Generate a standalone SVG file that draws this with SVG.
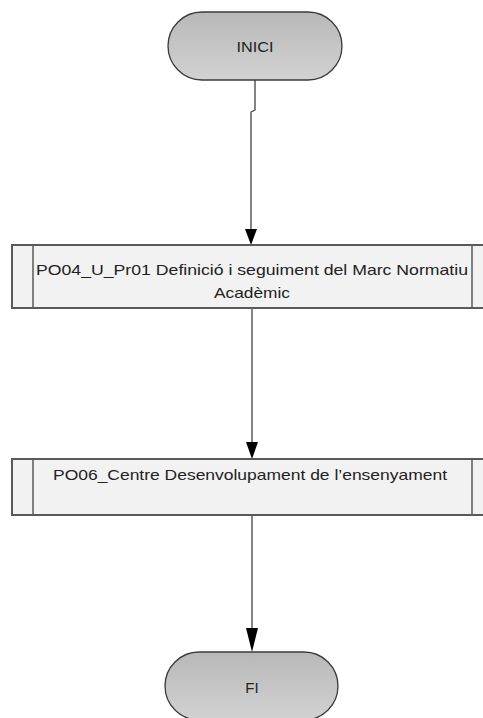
<svg xmlns="http://www.w3.org/2000/svg" width="483" height="718" viewBox="0 0 483 718">
<defs>
<linearGradient id="tg" x1="0" y1="0" x2="0" y2="1">
<stop offset="0" stop-color="#b8b8b8"/>
<stop offset="1" stop-color="#d2d2d2"/>
</linearGradient>
</defs>
<style>
.term{fill:url(#tg);stroke:#3a3a3a;stroke-width:1.3}
.proc{fill:#f2f2f2;stroke:#5a5a5a;stroke-width:2}
.inner{stroke:#333;stroke-width:1.2}
.lbl{font-family:"Liberation Sans",Arial,sans-serif;font-size:15px;fill:#222;text-anchor:middle}
.conn{fill:none;stroke:#333;stroke-width:1.2}
.head{fill:#000}
</style>
<g id="connectors">
<path class="conn" d="M255,80 V110 L251,112 V230"/>
<path class="head" d="M245,229 L257,229 L251,245 Z"/>
<path class="conn" d="M252,309 V443"/>
<path class="head" d="M246,442 L258,442 L252,459 Z"/>
<path class="conn" d="M252,516 V630"/>
<path class="head" d="M246,628 L258,628 L252,652 Z"/>
</g>
<g id="inici">
<rect class="term" x="168" y="12" width="174" height="68" rx="34" ry="34"/>
<text class="lbl" x="255" y="52" textLength="37" lengthAdjust="spacingAndGlyphs">INICI</text>
</g>
<g id="p1">
<rect class="proc" x="12" y="245" width="480" height="63"/>
<line class="inner" x1="33" y1="246" x2="33" y2="307"/>
<line class="inner" x1="472" y1="246" x2="472" y2="307"/>
<text class="lbl" x="252" y="275" textLength="432" lengthAdjust="spacingAndGlyphs">PO04_U_Pr01 Definició i seguiment del Marc Normatiu</text>
<text class="lbl" x="252" y="298" textLength="76" lengthAdjust="spacingAndGlyphs">Acadèmic</text>
</g>
<g id="p2">
<rect class="proc" x="12" y="459" width="480" height="56"/>
<line class="inner" x1="33" y1="460" x2="33" y2="514"/>
<line class="inner" x1="472" y1="460" x2="472" y2="514"/>
<text class="lbl" x="250" y="480" textLength="394" lengthAdjust="spacingAndGlyphs">PO06_Centre Desenvolupament de l’ensenyament</text>
</g>
<g id="fi">
<rect class="term" x="165" y="652" width="173" height="68" rx="34" ry="34"/>
<text class="lbl" x="252" y="693">FI</text>
</g>
</svg>
